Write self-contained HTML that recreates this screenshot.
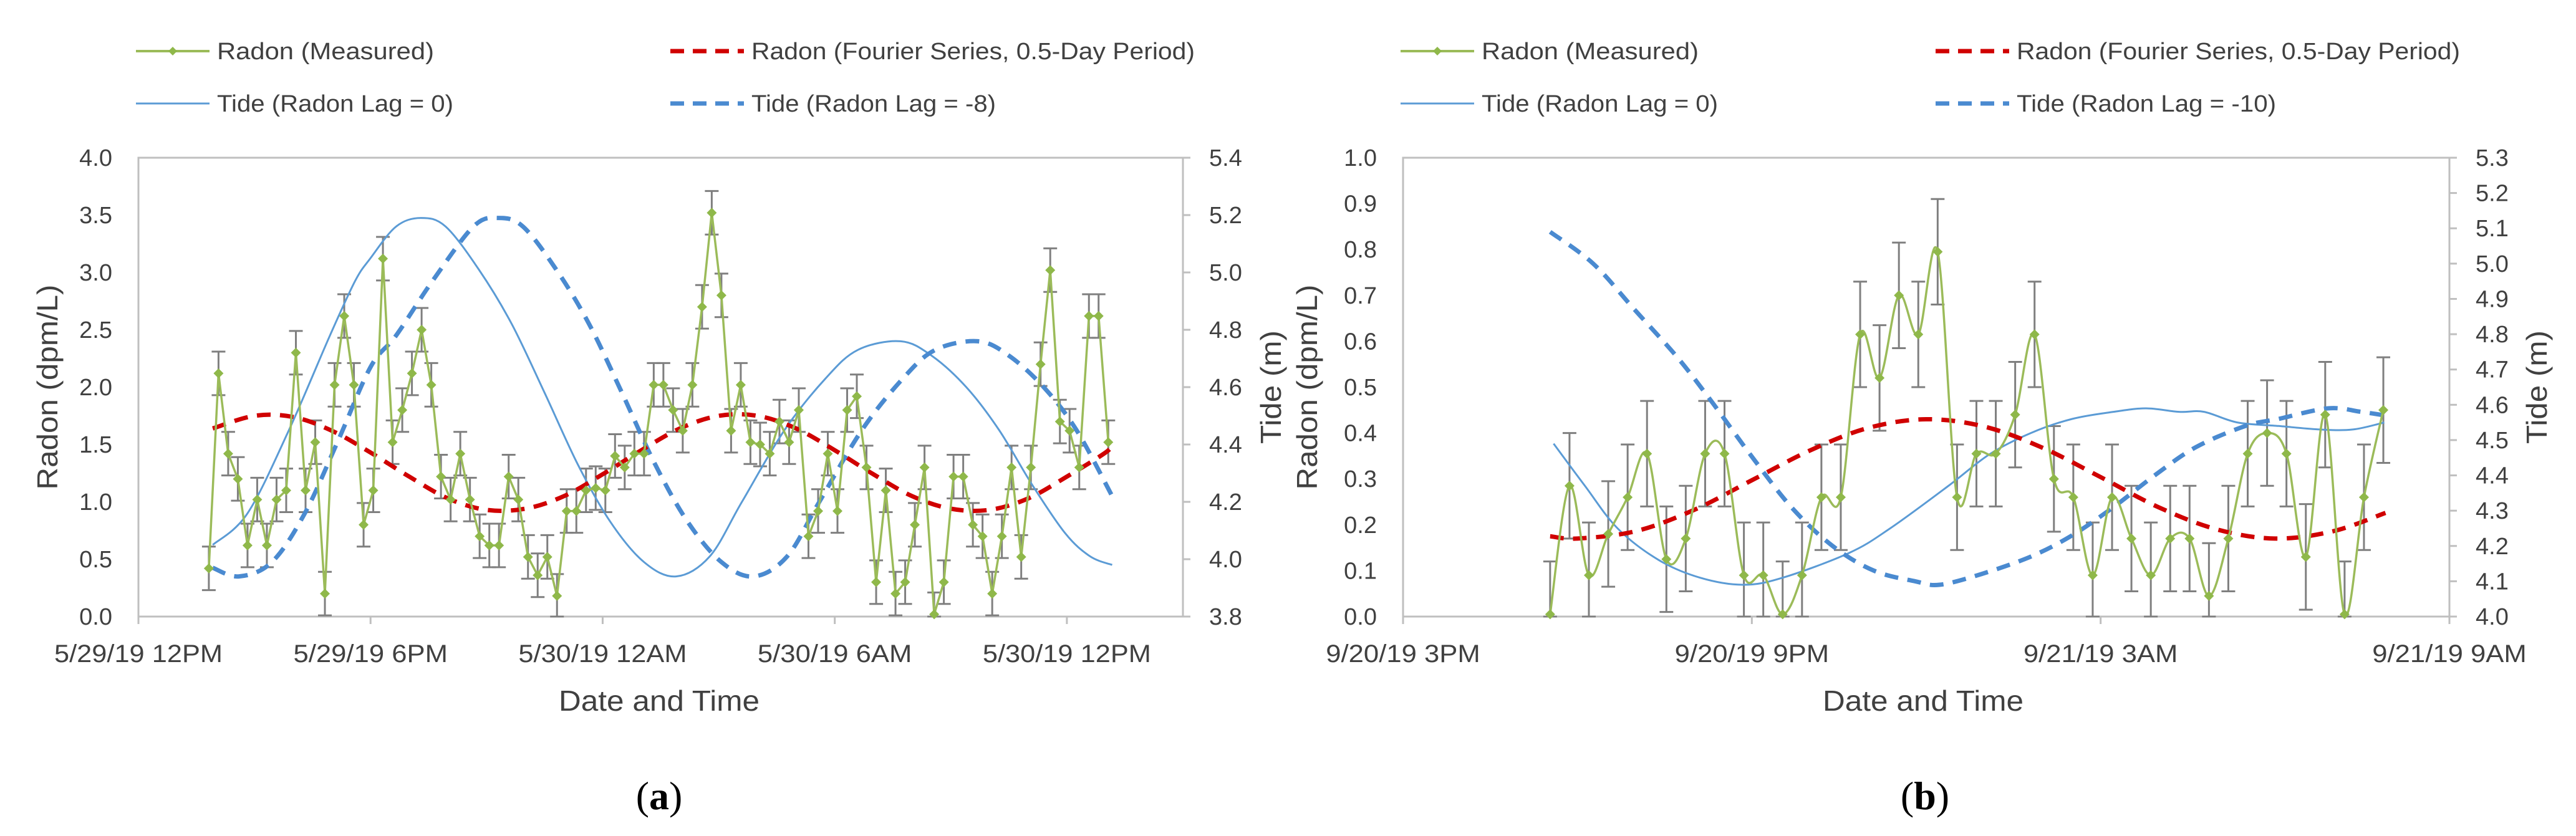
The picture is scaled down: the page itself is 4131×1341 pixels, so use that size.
<!DOCTYPE html>
<html><head><meta charset="utf-8"><style>
html,body{margin:0;padding:0;background:#fff;}
svg{display:block;}
text{font-family:"Liberation Sans",sans-serif;fill:#404040;}
</style></head><body>
<svg id="fig" width="4131" height="1341" viewBox="0 0 4131 1341" xmlns="http://www.w3.org/2000/svg"></svg>
<script>
// ---------- Chart (a) data ----------
const aStartHour = 1.82;
const aStepHour = 0.25;
const aRadon = [0.42,2.12,1.42,1.2,0.62,1.02,0.62,1.02,1.1,2.3,1.1,1.52,0.2,2.02,2.62,2.02,0.8,1.1,3.12,1.52,1.8,2.12,2.5,2.02,1.22,1.02,1.42,1.02,0.7,0.62,0.62,1.22,1.02,0.52,0.36,0.52,0.18,0.92,0.92,1.1,1.12,1.1,1.4,1.3,1.42,1.42,2.02,2.02,1.8,1.62,2.02,2.7,3.52,2.8,1.62,2.02,1.52,1.5,1.42,1.7,1.52,1.8,0.7,0.92,1.42,0.92,1.8,1.92,1.3,0.3,1.1,0.2,0.3,0.8,1.3,0.02,0.3,1.22,1.22,0.8,0.7,0.2,0.7,1.3,0.52,1.3,2.2,3.02,1.7,1.62,1.3,2.62,2.62,1.52];
const aRadonErr = 0.19;
const aFourierT = [1.92,3,4,5,6,7,8,9,10,11,12,13,14,15,16,17,18,19,20,21,22,23,24,25,25.17];
const aFourierV = [1.64,1.75,1.74,1.62,1.43,1.22,1.03,0.93,0.94,1.05,1.24,1.45,1.64,1.75,1.75,1.64,1.45,1.24,1.05,0.94,0.93,1.03,1.22,1.43,1.5];
const aTideT = [1.92,2.82,3.89,4.95,5.6,6,6.66,7.3,7.94,8.8,9.65,10.5,11.36,12.2,13.07,13.9,14.77,15.6,16.7,17.76,18.6,19.7,20.5,21.4,22.25,23.1,23.96,24.6,25.17];
const aTideV = [4.05,4.16,4.45,4.78,4.97,5.05,5.16,5.19,5.16,5.01,4.82,4.58,4.33,4.13,3.99,3.94,4.01,4.2,4.45,4.63,4.73,4.76,4.71,4.6,4.45,4.26,4.09,4.01,3.98];
const aTideLagT = [1.92,2.6,3.45,4.3,5.15,6,6.66,7.6,8.66,9.3,9.94,10.8,11.65,12.5,13.36,14.2,15.07,15.9,16.77,17.6,18.7,19.76,20.6,21.7,22.5,23.4,24.25,25.17];
const aTideLagV = [3.97,3.94,3.99,4.16,4.41,4.67,4.78,4.97,5.16,5.19,5.16,5.01,4.82,4.58,4.33,4.13,3.99,3.94,4.01,4.2,4.45,4.63,4.73,4.76,4.71,4.6,4.45,4.22];
const aXTicks = ["5/29/19 12PM","5/29/19 6PM","5/30/19 12AM","5/30/19 6AM","5/30/19 12PM"];
const aYTicks = ["0.0","0.5","1.0","1.5","2.0","2.5","3.0","3.5","4.0"];
const aY2Ticks = ["3.8","4.0","4.2","4.4","4.6","4.8","5.0","5.2","5.4"];

// ---------- Chart (b) data ----------
const bStartHour = 2.53;
const bStepHour = 1/3;
const bRadon = [0.005,0.285,0.09,0.18,0.26,0.355,0.125,0.17,0.355,0.355,0.09,0.09,0.005,0.09,0.26,0.26,0.615,0.52,0.70,0.615,0.795,0.26,0.355,0.355,0.44,0.615,0.30,0.26,0.09,0.26,0.17,0.09,0.17,0.17,0.045,0.17,0.355,0.40,0.355,0.13,0.44,0.005,0.26,0.45];
const bRadonErr = 0.115;
const bFourierT = [2.53,3,4,5,6,7,8,9,10,11,12,13,14,15,16,16.9];
const bFourierV = [0.175,0.17,0.186,0.232,0.297,0.362,0.411,0.43,0.414,0.368,0.304,0.238,0.19,0.17,0.186,0.226];
const bTideT = [2.59,3.13,3.69,4.4,5.11,5.85,6.53,7.67,8.38,9.38,10.09,10.8,11.51,12.22,12.78,13.35,13.78,14.35,15.06,15.77,16.34,16.88];
const bTideV = [4.49,4.37,4.25,4.16,4.11,4.09,4.11,4.18,4.25,4.37,4.46,4.52,4.56,4.58,4.59,4.58,4.58,4.55,4.54,4.53,4.53,4.55];
const bTideLagT = [2.53,3.27,3.98,4.69,5.26,5.97,6.68,7.39,8.1,8.81,9.23,9.94,10.8,11.51,12.22,12.93,13.64,14.49,15.06,15.91,16.48,16.88];
const bTideLagV = [5.09,5.0,4.87,4.74,4.62,4.46,4.31,4.2,4.13,4.10,4.09,4.12,4.17,4.23,4.31,4.40,4.48,4.54,4.56,4.59,4.58,4.57];
const bXTicks = ["9/20/19 3PM","9/20/19 9PM","9/21/19 3AM","9/21/19 9AM"];
const bYTicks = ["0.0","0.1","0.2","0.3","0.4","0.5","0.6","0.7","0.8","0.9","1.0"];
const bY2Ticks = ["4.0","4.1","4.2","4.3","4.4","4.5","4.6","4.7","4.8","4.9","5.0","5.1","5.2","5.3"];

const NS = "http://www.w3.org/2000/svg";
const fig = document.getElementById('fig');
function mk(tag, attrs, parent){
  const e = document.createElementNS(NS, tag);
  for (const k in attrs) e.setAttribute(k, attrs[k]);
  (parent||fig).appendChild(e);
  return e;
}
function pathFrom(xs, ys, fx, fy, smooth){
  const P = xs.map((x,i)=>[fx(x), fy(ys[i])]);
  if (!smooth) return P.map((p,i)=>(i?'L':'M')+p[0].toFixed(1)+' '+p[1].toFixed(1)).join(' ');
  let d = 'M'+P[0][0]+' '+P[0][1];
  for (let i=0;i<P.length-1;i++){
    const p0=P[i-1]||P[i], p1=P[i], p2=P[i+1], p3=P[i+2]||P[i+1];
    const c1=[p1[0]+(p2[0]-p0[0])/6, p1[1]+(p2[1]-p0[1])/6];
    const c2=[p2[0]-(p3[0]-p1[0])/6, p2[1]-(p3[1]-p1[1])/6];
    d+=' C'+c1[0].toFixed(1)+' '+c1[1].toFixed(1)+' '+c2[0].toFixed(1)+' '+c2[1].toFixed(1)+' '+p2[0].toFixed(1)+' '+p2[1].toFixed(1);
  }
  return d;
}

function chart(cfg){
  const g = mk('g', {});
  
  
  const L=cfg.left, R=cfg.right, T=253, B=989;
  const fx = h => L + (h - cfg.xMin)/(cfg.xMax - cfg.xMin)*(R-L);
  const fy = v => B - (v - cfg.yMin)/(cfg.yMax - cfg.yMin)*(B-T);
  const fy2 = v => B - (v - cfg.y2Min)/(cfg.y2Max - cfg.y2Min)*(B-T);

  // legend
  const lg = mk('g', {}, g);
  
  
  const items = [
    {t:'Radon (Measured)', x:cfg.lgX1, y:82, kind:'green', w:348},
    {t:'Radon (Fourier Series, 0.5-Day Period)', x:cfg.lgX2, y:82, kind:'red', w:711},
    {t:'Tide (Radon Lag = 0)', x:cfg.lgX1, y:166, kind:'blue', w:379},
    {t:cfg.lagLabel, x:cfg.lgX2, y:166, kind:'bluedash', w:cfg.lagW}
  ];
  items.forEach(it=>{
    const e = mk('g', {}, lg);
    
    
    const x1=it.x, x2=it.x+118;
    if (it.kind==='green'){
      mk('line',{x1:x1,y1:it.y,x2:x2,y2:it.y,stroke:'#9bbb59','stroke-width':4},e);
      mk('path',{d:`M${(x1+x2)/2} ${it.y-7} l7 7 l-7 7 l-7 -7z`,fill:'#8fb84a'},e);
    } else if (it.kind==='red'){
      mk('line',{x1:x1,y1:it.y,x2:x2,y2:it.y,stroke:'#d00000','stroke-width':7,'stroke-dasharray':'22 14'},e);
    } else if (it.kind==='blue'){
      mk('line',{x1:x1,y1:it.y,x2:x2,y2:it.y,stroke:'#5b9bd5','stroke-width':3},e);
    } else {
      mk('line',{x1:x1,y1:it.y,x2:x2,y2:it.y,stroke:'#4a8ad0','stroke-width':7,'stroke-dasharray':'22 14'},e);
    }
    const tx = mk('text',{x:x2+12,y:it.y+13,'font-size':38,textLength:it.w,lengthAdjust:'spacingAndGlyphs'},e);
    tx.textContent = it.t;
  });

  // plot frame
  const frame = mk('rect',{x:L,y:T,width:R-L,height:B-T,fill:'none',stroke:'#bfbfbf','stroke-width':3},g);
  
  

  cfg.yTicks.forEach((lab,i)=>{
    const v = cfg.yMin + i*cfg.yStep;
    const t = mk('text',{x:L-42,y:fy(v)+13,'font-size':38,'text-anchor':'end'},g);
    t.textContent = lab;
    
    
  });
  cfg.y2Ticks.forEach((lab,i)=>{
    const v = cfg.y2Min + i*cfg.y2Step;
    mk('line',{x1:R,x2:R+12,y1:fy2(v),y2:fy2(v),stroke:'#bfbfbf','stroke-width':3},g);
    const t = mk('text',{x:R+42,y:fy2(v)+13,'font-size':38},g);
    t.textContent = lab;
    
    
  });
  cfg.xTicks.forEach((lab,i)=>{
    const h = cfg.xMin + i*cfg.xStep;
    mk('line',{x1:fx(h),x2:fx(h),y1:B,y2:B+12,stroke:'#bfbfbf','stroke-width':3},g);
    const t = mk('text',{x:fx(h),y:1062,'font-size':40,'text-anchor':'middle',textLength:lab.length*22.5,lengthAdjust:'spacingAndGlyphs'},g);
    t.textContent = lab;
    
    
  });

  const yt = mk('text',{x:0,y:0,'font-size':46,'text-anchor':'middle',textLength:329,lengthAdjust:'spacingAndGlyphs',transform:`translate(${cfg.yTitleX},621) rotate(-90)`},g);
  yt.textContent='Radon (dpm/L)';
  
  
  const y2t = mk('text',{x:0,y:0,'font-size':46,'text-anchor':'middle',textLength:182,lengthAdjust:'spacingAndGlyphs',transform:`translate(${cfg.y2TitleX},621) rotate(-90)`},g);
  y2t.textContent='Tide (m)';
  
  
  const xt = mk('text',{x:cfg.xTitleX,y:1140,'font-size':46,'text-anchor':'middle',textLength:322,lengthAdjust:'spacingAndGlyphs'},g);
  xt.textContent='Date and Time';
  
  
  const cap = mk('text',{x:cfg.capX,y:1298,'font-size':64,'text-anchor':'middle',style:'fill:#000;font-family:"Liberation Serif",serif'},g);
  cap.innerHTML = '(<tspan font-weight="bold">'+cfg.cap+'</tspan>)';
  
  

  const times = cfg.radon.map((_,i)=>cfg.start + i*cfg.step);
  const eb = mk('g',{stroke:'#7f7f7f','stroke-width':3},g);
  
  
  cfg.radon.forEach((v,i)=>{
    const x=fx(times[i]);
    const lo=Math.max(cfg.yMin, v-cfg.err), hi=v+cfg.err;
    mk('line',{x1:x,x2:x,y1:fy(lo),y2:fy(hi)},eb);
    mk('line',{x1:x-11,x2:x+11,y1:fy(lo),y2:fy(lo)},eb);
    mk('line',{x1:x-11,x2:x+11,y1:fy(hi),y2:fy(hi)},eb);
  });
  const tide = mk('path',{d:pathFrom(cfg.tideT,cfg.tideV,fx,fy2,true),fill:'none',stroke:'#5b9bd5','stroke-width':3},g);
  
  
  const tideL = mk('path',{d:pathFrom(cfg.lagT,cfg.lagV,fx,fy2,true),fill:'none',stroke:'#4a8ad0','stroke-width':7,'stroke-dasharray':'22 15'},g);
  
  
  const four = mk('path',{d:pathFrom(cfg.fT,cfg.fV,fx,fy,true),fill:'none',stroke:'#d00000','stroke-width':7,'stroke-dasharray':'22 15'},g);
  
  
  const rl = mk('path',{d:pathFrom(times,cfg.radon,fx,fy,cfg.smooth),fill:'none',stroke:'#9bbb59','stroke-width':3.5},g);
  
  
  cfg.radon.forEach((v,i)=>{
    const x=fx(times[i]), y=fy(v);
    const m = mk('path',{d:`M${x} ${y-8} l8 8 l-8 8 l-8 -8z`,fill:'#8fb84a'},g);
    
    
  });
}

chart({name:'chart-a', left:222, right:1897, xMin:0, xMax:27, xStep:6, xTicks:aXTicks,
  yMin:0,yMax:4,yStep:0.5,yTicks:aYTicks, y2Min:3.8,y2Max:5.4,y2Step:0.2,y2Ticks:aY2Ticks,
  lgX1:218, lgX2:1075, lagLabel:'Tide (Radon Lag = -8)', lagW:392, yTitleX:92, y2TitleX:2054, xTitleX:1057, capX:1057, cap:'a',
  start:aStartHour, step:aStepHour, radon:aRadon, err:aRadonErr, smooth:false,
  fT:aFourierT,fV:aFourierV, tideT:aTideT,tideV:aTideV, lagT:aTideLagT,lagV:aTideLagV});

chart({name:'chart-b', left:2250, right:3928, xMin:0, xMax:18, xStep:6, xTicks:bXTicks,
  yMin:0,yMax:1,yStep:0.1,yTicks:bYTicks, y2Min:4.0,y2Max:5.3,y2Step:0.1,y2Ticks:bY2Ticks,
  lgX1:2246, lgX2:3104, lagLabel:'Tide (Radon Lag = -10)', lagW:416, yTitleX:2112, y2TitleX:4084, xTitleX:3084, capX:3087, cap:'b',
  start:bStartHour, step:bStepHour, radon:bRadon, err:bRadonErr, smooth:true,
  fT:bFourierT,fV:bFourierV, tideT:bTideT,tideV:bTideV, lagT:bTideLagT,lagV:bTideLagV});
</script>
</body></html>
